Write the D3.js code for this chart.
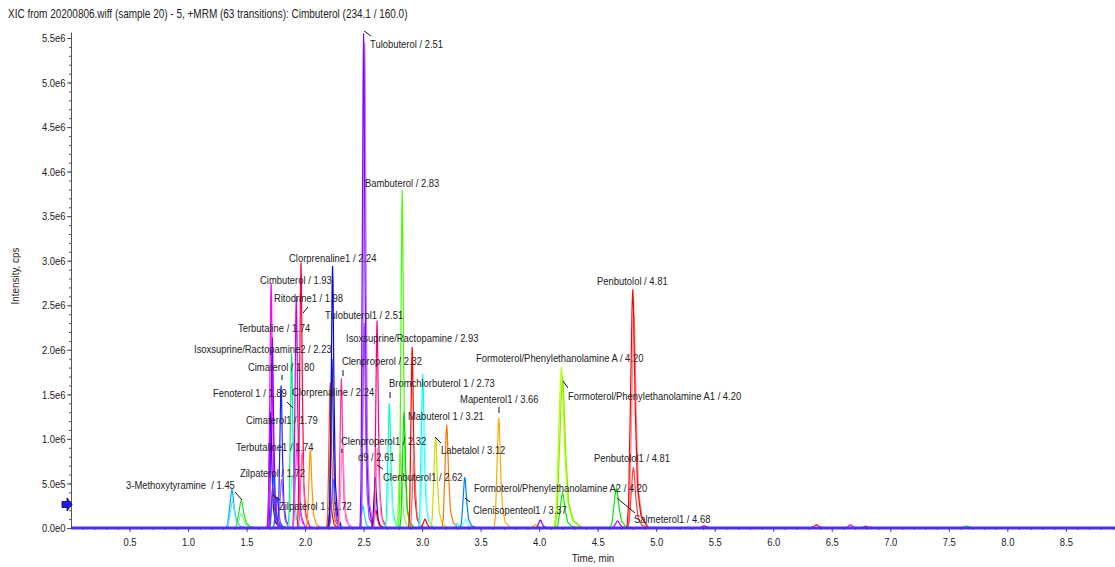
<!DOCTYPE html>
<html>
<head>
<meta charset="utf-8">
<script src="https://cdn.jsdelivr.net/npm/d3@7"></script>
<style>
    body { margin: 0; background: #fff; }
    text { font-family: "Liberation Sans", Arial, sans-serif; fill: #222; }
</style>
</head>
<body>
<svg id="chart" width="1115" height="567"></svg>
<script>
(function () {
    "use strict";

    var title = "XIC from 20200806.wiff (sample 20) - 5, +MRM (63 transitions): Cimbuterol (234.1 / 160.0)";

    var xTicks = [0.5, 1.0, 1.5, 2.0, 2.5, 3.0, 3.5, 4.0, 4.5, 5.0, 5.5, 6.0, 6.5, 7.0, 7.5, 8.0, 8.5];
    var yTicks = [0, 5e5, 1e6, 1.5e6, 2e6, 2.5e6, 3e6, 3.5e6, 4e6, 4.5e6, 5e6, 5.5e6];

    // shape of one peak: [min from apex, fraction of height]
    var peakProfile = [[-0.05, 0], [-0.036, 0.1], [-0.021, 0.5], [-0.006, 0.93], [0, 1],
        [0.006, 0.93], [0.021, 0.5], [0.04, 0.17], [0.07, 0.05], [0.13, 0]];

    // peaks: [retention time, height (cps), width factor, colour]
    var peaksEarly = [
        [1.375, 0.43e6, 1.0, "#00aaff"], [1.38, 0.30e6, 1.0, "#66ddff"],
        [1.455, 0.31e6, 1.1, "#22dd22"], [1.455, 0.16e6, 1.1, "#88ee88"],
        [1.705, 1.30e6, 0.6, "#0000ff"], [1.71, 2.75e6, 0.6, "#ff00ff"],
        [1.72, 2.14e6, 0.6, "#8000ff"], [1.725, 0.45e6, 0.7, "#ff0080"],
        [1.73, 0.60e6, 0.7, "#0060ff"], [1.76, 0.35e6, 0.7, "#4040ff"],
        [1.795, 1.60e6, 0.6, "#2020ff"], [1.80, 0.55e6, 0.7, "#a060ff"],
        [1.885, 1.96e6, 0.6, "#00ee80"], [1.89, 0.60e6, 0.7, "#80ffb0"],
        [1.925, 2.60e6, 0.6, "#c000ff"], [1.93, 0.95e6, 0.7, "#ff40ff"],
        [1.965, 2.98e6, 0.6, "#ff0040"], [1.975, 0.85e6, 0.7, "#ff60a0"],
        [2.045, 0.88e6, 0.7, "#ff9900"]
    ];
    var peaksMiddle = [
        [2.215, 1.63e6, 0.6, "#ff4000"], [2.22, 0.25e6, 0.7, "#ff0000"],
        [2.23, 1.90e6, 0.6, "#303070"], [2.235, 2.94e6, 0.6, "#0000ff"],
        [2.24, 0.55e6, 0.7, "#6060ff"], [2.31, 1.68e6, 0.6, "#ff3399"],
        [2.32, 0.95e6, 0.7, "#ff88cc"], [2.495, 0.25e6, 0.7, "#00e0ff"],
        [2.51, 5.45e6, 0.6, "#c080ff"], [2.50, 5.55e6, 0.6, "#8000ff"],
        [2.505, 2.30e6, 0.6, "#a040ff"], [2.60, 0.57e6, 0.6, "#0000ff"],
        [2.605, 0.20e6, 0.7, "#ff0000"], [2.615, 2.33e6, 0.6, "#ff0080"],
        [2.62, 0.90e6, 0.7, "#ff80c0"], [2.72, 1.40e6, 0.7, "#00ffcc"],
        [2.725, 0.70e6, 0.7, "#80ffe0"], [2.815, 0.85e6, 0.7, "#80ff40"],
        [2.83, 3.79e6, 0.6, "#44ff00"], [2.845, 1.30e6, 0.7, "#00dd00"],
        [2.915, 2.03e6, 0.6, "#ff0000"], [2.93, 0.80e6, 0.7, "#ff6060"],
        [3.005, 1.73e6, 0.7, "#00ffff"], [3.015, 1.30e6, 0.7, "#80ffff"],
        [3.025, 0.10e6, 0.8, "#ff0000"], [3.115, 1.02e6, 0.8, "#ccdd00"],
        [3.21, 1.16e6, 0.8, "#ff7700"], [3.30, 0.05e6, 0.8, "#00ffff"],
        [3.365, 0.57e6, 0.8, "#0080ff"], [3.37, 0.10e6, 0.8, "#80ffff"],
        [3.655, 1.24e6, 0.8, "#ffaa00"]
    ];
    var peaksLate = [
        [3.97, 0.04e6, 1.0, "#ffaa00"], [4.01, 0.09e6, 0.8, "#8000ff"],
        [4.19, 1.81e6, 1.3, "#bbff00"], [4.20, 1.70e6, 1.3, "#88ee00"],
        [4.20, 0.39e6, 1.1, "#00ee00"], [4.66, 0.45e6, 1.1, "#00ee00"],
        [4.67, 0.08e6, 1.0, "#aa00ff"], [4.81, 2.40e6, 1.0, "#ff9090"],
        [4.80, 2.68e6, 1.0, "#ff0000"], [4.805, 0.68e6, 1.0, "#ff4040"],
        [5.41, 0.025e6, 1.0, "#ff00aa"], [6.37, 0.035e6, 1.2, "#ff0040"],
        [6.66, 0.035e6, 1.0, "#ff00cc"], [6.79, 0.02e6, 1.0, "#ff0080"],
        [6.83, 0.012e6, 1.0, "#00ffcc"], [7.65, 0.02e6, 1.5, "#22ee00"]
    ];

    // peak labels: [text, time of text start, intensity at text baseline]
    var labels = [
        ["Tulobuterol / 2.51", 2.555, 5.388e6],
        ["Bambuterol / 2.83", 2.512, 3.828e6],
        ["Clorprenaline1 / 2.24", 1.863, 2.986e6],
        ["Cimbuterol / 1.93", 1.615, 2.739e6],
        ["Ritodrine1 / 1.98", 1.734, 2.537e6],
        ["Tulobuterol1 / 2.51", 2.170, 2.346e6],
        ["Terbutaline / 1.74", 1.427, 2.200e6],
        ["Isoxsuprine/Ractopamine / 2.93", 2.350, 2.088e6],
        ["Isoxsuprine/Ractopamine2 / 2.23", 1.051, 1.964e6],
        ["Clenproperol / 2.32", 2.315, 1.830e6],
        ["Formoterol/Phenylethanolamine A / 4.20", 3.460, 1.863e6],
        ["Cimaterol / 1.80", 1.512, 1.762e6],
        ["Bromchlorbuterol 1 / 2.73", 2.717, 1.583e6],
        ["Formoterol/Phenylethanolamine A1 / 4.20", 4.246, 1.437e6],
        ["Fenoterol 1 / 1.89", 1.213, 1.470e6],
        ["Clorprenaline / 2.24", 1.888, 1.482e6],
        ["Mapenterol1 / 3.66", 3.324, 1.403e6],
        ["Cimaterol1 / 1.79", 1.495, 1.167e6],
        ["Mabuterol 1 / 3.21", 2.879, 1.212e6],
        ["Labetalol / 3.12", 3.161, 0.831e6],
        ["Clenproperol1 / 2.32", 2.307, 0.932e6],
        ["Terbutaline1 / 1.74", 1.410, 0.864e6],
        ["d9 / 2.61", 2.452, 0.752e6],
        ["Clenbuterol1 / 2.62", 2.666, 0.528e6],
        ["Zilpaterol / 1.72", 1.444, 0.572e6],
        ["Formoterol/Phenylethanolamine A2 / 4.20", 3.443, 0.404e6],
        ["3-Methoxytyramine  / 1.45", 0.470, 0.438e6],
        ["Zilpaterol 1 / 1.72", 1.777, 0.202e6],
        ["Clenisopenteol1 / 3.37", 3.435, 0.157e6],
        ["Penbutolol / 4.81", 4.494, 2.728e6],
        ["Penbutolol1 / 4.81", 4.469, 0.741e6],
        ["Salmeterol1 / 4.68", 4.810, 0.056e6]
    ];

    // leader lines from label to peak: [t1, i1, t2, i2]
    var leaders = [
        [2.504, 5.58e6, 2.564, 5.52e6], [2.025, 2.481e6, 1.982, 2.413e6],
        [2.324, 1.773e6, 2.324, 1.706e6], [1.803, 1.717e6, 1.803, 1.661e6],
        [1.846, 1.414e6, 1.897, 1.347e6], [2.726, 1.527e6, 2.726, 1.459e6],
        [3.657, 1.358e6, 3.657, 1.291e6], [4.204, 1.650e6, 4.246, 1.571e6],
        [3.110, 1.021e6, 3.161, 0.954e6], [2.315, 0.887e6, 2.315, 0.842e6],
        [2.614, 0.707e6, 2.666, 0.662e6], [1.726, 0.370e6, 1.786, 0.314e6],
        [1.401, 0.404e6, 1.461, 0.314e6], [3.366, 0.337e6, 3.409, 0.292e6],
        [4.665, 0.337e6, 4.819, 0.168e6]
    ];

    var timeRange = [0, 8.92];
    var markerLevel = 0.264e6;

    // the instrument font is narrower than Liberation Sans, so texts are squeezed
    var narrow = 0.82;

    var svg = d3.select("#chart");

    var x = d3.scaleLinear().domain(timeRange).range([71, 1115]);
    var y = d3.scaleLinear().domain([0, 5.567e6]).range([528, 32]);

    var fmtY = function (d) {
        return d3.format(".1e")(d).replace("+", "");
    };

    // title and axis labels
    svg.append("text")
        .attr("transform", "translate(8,18) scale(0.8,1)")
        .style("font-size", "12.5px")
        .text(title);

    svg.append("text")
        .attr("transform", "translate(19,276) rotate(-90) scale(0.9,1)")
        .attr("text-anchor", "middle")
        .style("font-size", "11px")
        .text("Intensity, cps");

    svg.append("text")
        .attr("transform", "translate(593,562) scale(0.89,1)")
        .attr("text-anchor", "middle")
        .style("font-size", "11px")
        .text("Time, min");

    // minor ticks
    svg.append("g")
        .attr("transform", "translate(0,528)")
        .call(d3.axisBottom(x).tickValues(d3.range(0.1, 8.91, 0.1)).tickSize(2).tickFormat(""))
        .call(function (g) { g.select(".domain").remove(); })
        .selectAll("line").attr("stroke", "#555");

    svg.append("g")
        .attr("transform", "translate(71,0)")
        .call(d3.axisLeft(y).tickValues(d3.range(1e5, 5.56e6, 1e5)).tickSize(2).tickFormat(""))
        .call(function (g) { g.select(".domain").remove(); })
        .selectAll("line").attr("stroke", "#555");

    // major axes
    var $xAxis = svg.append("g")
        .attr("transform", "translate(0,528)")
        .call(d3.axisBottom(x).tickValues(xTicks).tickFormat(d3.format(".1f")).tickSize(4).tickPadding(5.5));
    $xAxis.select(".domain").remove();
    $xAxis.selectAll("line").attr("stroke", "#555");
    $xAxis.selectAll("text")
        .attr("transform", "scale(" + narrow + ",1)")
        .style("font-size", "11.5px").style("fill", "#222")
        .style("font-family", "\"Liberation Sans\", Arial, sans-serif");

    var $yAxis = svg.append("g")
        .attr("transform", "translate(71,0)")
        .call(d3.axisLeft(y).tickValues(yTicks).tickFormat(fmtY).tickSize(4).tickPadding(2).tickSizeOuter(0));
    $yAxis.select(".domain").attr("stroke", "#555");
    $yAxis.selectAll("line").attr("stroke", "#555");
    $yAxis.selectAll("text")
        .attr("x", -5.5 / narrow)
        .attr("transform", "scale(" + narrow + ",1)")
        .style("font-size", "11.5px").style("fill", "#222")
        .style("font-family", "\"Liberation Sans\", Arial, sans-serif");

    // traces
    var line = d3.line()
        .x(function (d) { return x(d[0]); })
        .y(function (d) { return y(d[1]); });

    var peakPoints = function (p) {
        return peakProfile.map(function (q) {
            return [p[0] + q[0] * p[2], q[1] * p[1]];
        });
    };

    var $traces = svg.append("g").attr("fill", "none").attr("stroke-width", 1.2);
    peaksLate.concat(peaksEarly, peaksMiddle).forEach(function (p) {
        $traces.append("path")
            .attr("d", line(peakPoints(p)))
            .attr("stroke", p[3]);
    });

    // baseline of all transitions
    svg.append("path")
        .attr("d", line([[timeRange[0], 0], [timeRange[1], 0]]))
        .attr("fill", "none")
        .attr("stroke", "#5030f0")
        .attr("stroke-width", 3);

    // threshold arrow
    svg.append("path")
        .attr("transform", "translate(" + x(0) + "," + y(markerLevel) + ")")
        .attr("d", "M-9,-3L-4,-3L-4,-6.5L1,0L-4,6.5L-4,3L-9,3Z")
        .attr("fill", "#1a1aff")
        .attr("stroke", "#000033")
        .attr("stroke-width", 0.8);

    // leader lines and labels
    svg.append("g").selectAll("line")
        .data(leaders)
        .join("line")
        .attr("x1", function (d) { return x(d[0]); })
        .attr("y1", function (d) { return y(d[1]); })
        .attr("x2", function (d) { return x(d[2]); })
        .attr("y2", function (d) { return y(d[3]); })
        .attr("stroke", "#111")
        .attr("stroke-width", 1);

    svg.append("g").selectAll("text")
        .data(labels)
        .join("text")
        .attr("transform", function (d) {
            return "translate(" + x(d[1]) + "," + y(d[2]) + ") scale(" + narrow + ",1)";
        })
        .style("font-size", "11.5px")
        .style("white-space", "pre")
        .text(function (d) { return d[0]; });
})();
</script>
</body>
</html>
